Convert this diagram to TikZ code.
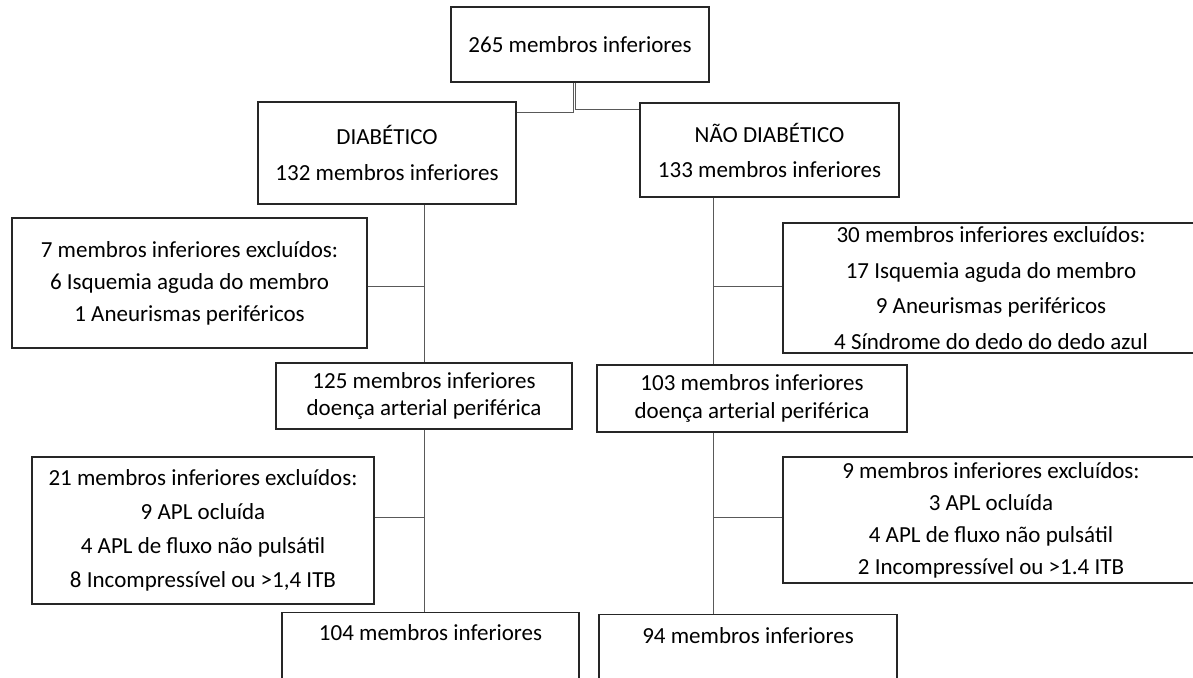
\documentclass[tikz,border=0pt]{standalone}
\usepackage{fontspec}
\setmainfont{Carlito}
\begin{document}
\begin{tikzpicture}[x=1pt, y=-1pt,
  caixa/.style={draw=black!85, line width=1.1pt, inner sep=0pt, align=center},
  liga/.style={draw=black!65, line width=1pt}]
  \useasboundingbox (0,0) rectangle (1193,677);
  \clip (0,0) rectangle (1193,677);
  \coordinate (eixoD) at (424.5,0);
  \coordinate (eixoN) at (713,0);
  % Total de membros
  \node[caixa, minimum width=258, minimum height=75, font=\fontsize{23}{34}\selectfont] (topo) at (580,44.5) {265 membros inferiores};
  % Grupos
  \node[caixa, minimum width=258, minimum height=102, font=\fontsize{23}{36}\selectfont] (diab) at (387,153) {DIABÉTICO\\132 membros inferiores};
  \node[caixa, minimum width=259, minimum height=94, font=\fontsize{23}{35}\selectfont] (ndiab) at (769.5,150) {NÃO DIABÉTICO\\133 membros inferiores};
  % Primeiras exclusoes
  \node[caixa, minimum width=355, minimum height=130, font=\fontsize{23}{32}\selectfont] (exc1) at (189.5,283) {7 membros inferiores excluídos:\\6 Isquemia aguda do membro\\1 Aneurismas periféricos};
  \node[caixa, minimum width=416, minimum height=130, font=\fontsize{23}{35.5}\selectfont] (exc2) at (991,288) {30 membros inferiores excluídos:\\17 Isquemia aguda do membro\\9 Aneurismas periféricos\\4 Síndrome do dedo do dedo azul};
  % Doenca arterial periferica
  \node[caixa, minimum width=296, minimum height=66, font=\fontsize{23}{27}\selectfont] (d125) at (424,396) {125 membros inferiores\\doença arterial periférica};
  \node[caixa, minimum width=310, minimum height=67, font=\fontsize{23}{28}\selectfont] (d103) at (752,398.5) {103 membros inferiores\\doença arterial periférica};
  % Segundas exclusoes
  \node[caixa, minimum width=342, minimum height=147, font=\fontsize{23}{34}\selectfont] (exc3) at (203,530.5) {21 membros inferiores excluídos:\\9 APL ocluída\\4 APL de fluxo não pulsátil\\8 Incompressível ou >1,4 ITB};
  \node[caixa, minimum width=416, minimum height=126, font=\fontsize{23}{32}\selectfont] (exc4) at (991,520) {9 membros inferiores excluídos:\\3 APL ocluída\\4 APL de fluxo não pulsátil\\2 Incompressível ou >1.4 ITB};
  % Amostra final
  \node[caixa, anchor=north, minimum width=297, text height=28, text depth=60, font=\fontsize{23}{28}\selectfont] (m104) at (430.5,612) {104 membros inferiores};
  \node[caixa, anchor=north, minimum width=298, text height=28.5, text depth=60, font=\fontsize{23}{28}\selectfont] (m94) at (748,614) {94 membros inferiores};
  % Ligacoes
  \draw[liga] ([xshift=-7]topo.south) |- ([yshift=-11]diab.north east);
  \draw[liga] ([xshift=-5]topo.south) |- ([yshift=-7]ndiab.north west);
  \draw[liga] (diab.south -| eixoD) -- (d125.north -| eixoD);
  \draw[liga] ([yshift=-3]exc1.east) -- ([yshift=-3]exc1.east -| eixoD);
  \draw[liga] (ndiab.south -| eixoN) -- (d103.north -| eixoN);
  \draw[liga] ([yshift=2]exc2.west) -- ([yshift=2]exc2.west -| eixoN);
  \draw[liga] (d125.south -| eixoD) -- (m104.north -| eixoD);
  \draw[liga] ([yshift=13.5]exc3.east) -- ([yshift=13.5]exc3.east -| eixoD);
  \draw[liga] (d103.south -| eixoN) -- (m94.north -| eixoN);
  \draw[liga] ([yshift=3]exc4.west) -- ([yshift=3]exc4.west -| eixoN);
\end{tikzpicture}
\end{document}
